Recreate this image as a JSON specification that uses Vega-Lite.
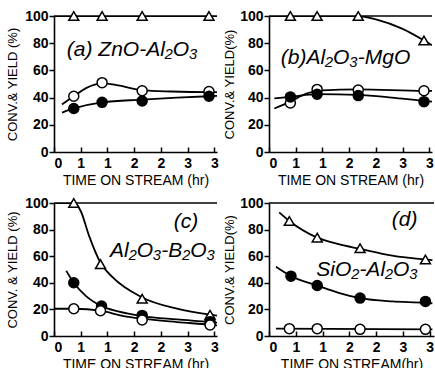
{
  "$schema": "https://vega.github.io/schema/vega-lite/v6.json",
  "padding": {"left": 6, "top": 8, "right": 0, "bottom": 0},
  "background": "white",
  "config": {
    "view": {"stroke": null},
    "font": "Liberation Sans",
    "axis": {
      "domainColor": "black", "domainWidth": 1.6, "tickColor": "black", "tickWidth": 1.5,
      "labelColor": "black", "titleColor": "black", "grid": false, "labelOverlap": false,
      "labelFont": "Liberation Sans", "labelFontSize": 14, "labelFontWeight": "bold",
      "titleFont": "Liberation Sans", "titleFontSize": 14, "titleFontWeight": "normal"
    },
    "axisY": {"values": [0, 20, 40, 60, 80, 100], "tickSize": 5, "labelPadding": 1, "titleFontSize": 13},
    "axisX": {"values": [0, 1, 2, 3], "format": "d", "tickSize": -5, "labelPadding": 9, "titlePadding": 3}
  },
  "datasets": {
    "pts": [
      {"panel": "a", "series": "conv", "x": 0.37, "y": 100}, {"panel": "a", "series": "conv", "x": 0.9, "y": 100}, {"panel": "a", "series": "conv", "x": 1.65, "y": 100}, {"panel": "a", "series": "conv", "x": 2.9, "y": 100},
      {"panel": "a", "series": "open", "x": 0.37, "y": 41}, {"panel": "a", "series": "open", "x": 0.9, "y": 51}, {"panel": "a", "series": "open", "x": 1.65, "y": 45}, {"panel": "a", "series": "open", "x": 2.9, "y": 44.5},
      {"panel": "a", "series": "filled", "x": 0.37, "y": 32}, {"panel": "a", "series": "filled", "x": 0.9, "y": 36.5}, {"panel": "a", "series": "filled", "x": 1.65, "y": 37.5}, {"panel": "a", "series": "filled", "x": 2.9, "y": 41},
      {"panel": "b", "series": "conv", "x": 0.4, "y": 100}, {"panel": "b", "series": "conv", "x": 0.9, "y": 100}, {"panel": "b", "series": "conv", "x": 1.67, "y": 100}, {"panel": "b", "series": "conv", "x": 2.9, "y": 82},
      {"panel": "b", "series": "open", "x": 0.4, "y": 36}, {"panel": "b", "series": "open", "x": 0.9, "y": 46}, {"panel": "b", "series": "open", "x": 1.67, "y": 45.5}, {"panel": "b", "series": "open", "x": 2.9, "y": 45},
      {"panel": "b", "series": "filled", "x": 0.4, "y": 40.5}, {"panel": "b", "series": "filled", "x": 0.9, "y": 42.5}, {"panel": "b", "series": "filled", "x": 1.67, "y": 41.5}, {"panel": "b", "series": "filled", "x": 2.9, "y": 37},
      {"panel": "c", "series": "conv", "x": 0.37, "y": 100}, {"panel": "c", "series": "conv", "x": 0.87, "y": 54}, {"panel": "c", "series": "conv", "x": 1.65, "y": 28}, {"panel": "c", "series": "conv", "x": 2.92, "y": 16},
      {"panel": "c", "series": "filled", "x": 0.37, "y": 40}, {"panel": "c", "series": "filled", "x": 0.89, "y": 22.5}, {"panel": "c", "series": "filled", "x": 1.65, "y": 15.5}, {"panel": "c", "series": "filled", "x": 2.92, "y": 10.8},
      {"panel": "c", "series": "open", "x": 0.37, "y": 20.5}, {"panel": "c", "series": "open", "x": 0.87, "y": 19}, {"panel": "c", "series": "open", "x": 1.65, "y": 12}, {"panel": "c", "series": "open", "x": 2.92, "y": 8.3},
      {"panel": "d", "series": "conv", "x": 0.38, "y": 86.5}, {"panel": "d", "series": "conv", "x": 0.9, "y": 74}, {"panel": "d", "series": "conv", "x": 1.7, "y": 66}, {"panel": "d", "series": "conv", "x": 2.92, "y": 57.5},
      {"panel": "d", "series": "filled", "x": 0.41, "y": 45}, {"panel": "d", "series": "filled", "x": 0.9, "y": 38}, {"panel": "d", "series": "filled", "x": 1.7, "y": 28.5}, {"panel": "d", "series": "filled", "x": 2.92, "y": 26},
      {"panel": "d", "series": "open", "x": 0.38, "y": 5.5}, {"panel": "d", "series": "open", "x": 0.9, "y": 5.5}, {"panel": "d", "series": "open", "x": 1.7, "y": 5}, {"panel": "d", "series": "open", "x": 2.92, "y": 5}
    ],
    "curves": [
      {"panel": "a", "series": "conv", "x": 0, "y": 100}, {"panel": "a", "series": "conv", "x": 3.05, "y": 100},
      {"panel": "a", "series": "open", "x": 0.15, "y": 35}, {"panel": "a", "series": "open", "x": 0.37, "y": 41}, {"panel": "a", "series": "open", "x": 0.6, "y": 47}, {"panel": "a", "series": "open", "x": 0.9, "y": 50.5}, {"panel": "a", "series": "open", "x": 1.2, "y": 49}, {"panel": "a", "series": "open", "x": 1.65, "y": 45.5}, {"panel": "a", "series": "open", "x": 2.2, "y": 44.5}, {"panel": "a", "series": "open", "x": 2.9, "y": 44}, {"panel": "a", "series": "open", "x": 3.05, "y": 44},
      {"panel": "a", "series": "filled", "x": 0.15, "y": 29}, {"panel": "a", "series": "filled", "x": 0.37, "y": 32}, {"panel": "a", "series": "filled", "x": 0.9, "y": 36.5}, {"panel": "a", "series": "filled", "x": 1.65, "y": 38.5}, {"panel": "a", "series": "filled", "x": 2.3, "y": 40}, {"panel": "a", "series": "filled", "x": 2.9, "y": 41}, {"panel": "a", "series": "filled", "x": 3.05, "y": 41.2},
      {"panel": "b", "series": "conv", "x": 0, "y": 100}, {"panel": "b", "series": "conv", "x": 1.67, "y": 100}, {"panel": "b", "series": "conv", "x": 2.0, "y": 97.5}, {"panel": "b", "series": "conv", "x": 2.5, "y": 90.5}, {"panel": "b", "series": "conv", "x": 2.9, "y": 82}, {"panel": "b", "series": "conv", "x": 3.05, "y": 78.5},
      {"panel": "b", "series": "open", "x": 0.1, "y": 32}, {"panel": "b", "series": "open", "x": 0.4, "y": 37}, {"panel": "b", "series": "open", "x": 0.7, "y": 43}, {"panel": "b", "series": "open", "x": 1.0, "y": 45.3}, {"panel": "b", "series": "open", "x": 1.67, "y": 46}, {"panel": "b", "series": "open", "x": 2.9, "y": 45}, {"panel": "b", "series": "open", "x": 3.05, "y": 45},
      {"panel": "b", "series": "filled", "x": 0.1, "y": 39.5}, {"panel": "b", "series": "filled", "x": 0.4, "y": 40.5}, {"panel": "b", "series": "filled", "x": 0.9, "y": 42.5}, {"panel": "b", "series": "filled", "x": 1.67, "y": 42}, {"panel": "b", "series": "filled", "x": 2.3, "y": 40}, {"panel": "b", "series": "filled", "x": 2.9, "y": 37.5}, {"panel": "b", "series": "filled", "x": 3.05, "y": 37},
      {"panel": "c", "series": "conv", "x": 0, "y": 100}, {"panel": "c", "series": "conv", "x": 0.37, "y": 100}, {"panel": "c", "series": "conv", "x": 0.5, "y": 94}, {"panel": "c", "series": "conv", "x": 0.65, "y": 76}, {"panel": "c", "series": "conv", "x": 0.87, "y": 55}, {"panel": "c", "series": "conv", "x": 1.1, "y": 44}, {"panel": "c", "series": "conv", "x": 1.65, "y": 29}, {"panel": "c", "series": "conv", "x": 2.3, "y": 20.5}, {"panel": "c", "series": "conv", "x": 2.92, "y": 16}, {"panel": "c", "series": "conv", "x": 3.05, "y": 15.3},
      {"panel": "c", "series": "filled", "x": 0.23, "y": 49}, {"panel": "c", "series": "filled", "x": 0.37, "y": 40}, {"panel": "c", "series": "filled", "x": 0.6, "y": 30}, {"panel": "c", "series": "filled", "x": 0.89, "y": 22.5}, {"panel": "c", "series": "filled", "x": 1.2, "y": 18.5}, {"panel": "c", "series": "filled", "x": 1.65, "y": 15}, {"panel": "c", "series": "filled", "x": 2.3, "y": 12.5}, {"panel": "c", "series": "filled", "x": 2.92, "y": 10.5}, {"panel": "c", "series": "filled", "x": 3.05, "y": 10},
      {"panel": "c", "series": "open", "x": 0, "y": 20.5}, {"panel": "c", "series": "open", "x": 0.37, "y": 20.5}, {"panel": "c", "series": "open", "x": 0.87, "y": 19}, {"panel": "c", "series": "open", "x": 1.3, "y": 15}, {"panel": "c", "series": "open", "x": 1.65, "y": 13}, {"panel": "c", "series": "open", "x": 2.3, "y": 10.5}, {"panel": "c", "series": "open", "x": 2.92, "y": 8.5}, {"panel": "c", "series": "open", "x": 3.05, "y": 8},
      {"panel": "d", "series": "conv", "x": 0.19, "y": 93}, {"panel": "d", "series": "conv", "x": 0.38, "y": 86.5}, {"panel": "d", "series": "conv", "x": 0.9, "y": 74}, {"panel": "d", "series": "conv", "x": 1.3, "y": 69}, {"panel": "d", "series": "conv", "x": 1.7, "y": 65.5}, {"panel": "d", "series": "conv", "x": 2.3, "y": 60.5}, {"panel": "d", "series": "conv", "x": 2.92, "y": 57.5}, {"panel": "d", "series": "conv", "x": 3.05, "y": 57},
      {"panel": "d", "series": "filled", "x": 0.13, "y": 52}, {"panel": "d", "series": "filled", "x": 0.41, "y": 45}, {"panel": "d", "series": "filled", "x": 0.9, "y": 38}, {"panel": "d", "series": "filled", "x": 1.3, "y": 32.5}, {"panel": "d", "series": "filled", "x": 1.7, "y": 28.5}, {"panel": "d", "series": "filled", "x": 2.3, "y": 26}, {"panel": "d", "series": "filled", "x": 2.92, "y": 25}, {"panel": "d", "series": "filled", "x": 3.05, "y": 24.5},
      {"panel": "d", "series": "open", "x": 0.13, "y": 5.5}, {"panel": "d", "series": "open", "x": 3.05, "y": 5}
    ]
  },
  "columns": 2,
  "spacing": {"row": 51, "column": 52},
  "bounds": "flush",
  "concat": [
    {
      "width": 163, "height": 136,
      "layer": [
        {"data": {"values": [{}]}, "mark": {"type": "rule", "color": "black", "strokeWidth": 1.5}, "encoding": {"y": {"datum": 100, "type": "quantitative", "scale": {"domain": [0, 100]}, "axis": {"title": "CONV.& YIELD (%)", "titlePadding": 5}}}},
        {"data": {"name": "curves"}, "transform": [{"filter": "datum.panel == 'a'"}], "mark": {"type": "line", "interpolate": "monotone", "color": "black", "strokeWidth": 1.8, "clip": true},
         "encoding": {
           "x": {"field": "x", "type": "quantitative", "scale": {"domain": [0, 3.05], "nice": false}, "axis": {"title": "TIME ON STREAM (hr)"}},
           "y": {"field": "y", "type": "quantitative", "axis": {"title": "CONV.& YIELD (%)", "titlePadding": 5}},
           "detail": {"field": "series"}}},
        {"data": {"name": "pts"}, "transform": [{"filter": "datum.panel == 'a'"}], "mark": {"type": "point", "filled": true, "stroke": "black", "strokeWidth": 1.5, "size": 100, "opacity": 1},
         "encoding": {"x": {"field": "x", "type": "quantitative"}, "y": {"field": "y", "type": "quantitative"},
           "shape": {"field": "series", "scale": {"domain": ["conv", "filled", "open"], "range": ["triangle-up", "circle", "circle"]}, "legend": null},
           "fill": {"field": "series", "scale": {"domain": ["conv", "filled", "open"], "range": ["white", "black", "white"]}, "legend": null}}},
        {"data": {"values": [{}]}, "mark": {"type": "text", "align": "left", "baseline": "middle", "fontSize": 21, "fontStyle": "italic", "font": "Liberation Sans", "color": "black"},
         "encoding": {"x": {"datum": 0.24}, "y": {"datum": 75}, "text": {"value": "(a) ZnO-Al₂O₃"}}}
      ]
    },
    {
      "width": 163, "height": 136,
      "layer": [
        {"data": {"values": [{}]}, "mark": {"type": "rule", "color": "black", "strokeWidth": 1.5}, "encoding": {"y": {"datum": 100, "type": "quantitative", "scale": {"domain": [0, 100]}, "axis": {"title": "CONV.& YIELD(%)", "titlePadding": 3}}}},
        {"data": {"name": "curves"}, "transform": [{"filter": "datum.panel == 'b'"}], "mark": {"type": "line", "interpolate": "monotone", "color": "black", "strokeWidth": 1.8, "clip": true},
         "encoding": {
           "x": {"field": "x", "type": "quantitative", "scale": {"domain": [0, 3.05], "nice": false}, "axis": {"title": "TIME ON STREAM (hr)"}},
           "y": {"field": "y", "type": "quantitative", "axis": {"title": "CONV.& YIELD(%)", "titlePadding": 3}},
           "detail": {"field": "series"}}},
        {"data": {"name": "pts"}, "transform": [{"filter": "datum.panel == 'b'"}], "mark": {"type": "point", "filled": true, "stroke": "black", "strokeWidth": 1.5, "size": 100, "opacity": 1},
         "encoding": {"x": {"field": "x", "type": "quantitative"}, "y": {"field": "y", "type": "quantitative"},
           "shape": {"field": "series", "scale": {"domain": ["conv", "filled", "open"], "range": ["triangle-up", "circle", "circle"]}, "legend": null},
           "fill": {"field": "series", "scale": {"domain": ["conv", "filled", "open"], "range": ["white", "black", "white"]}, "legend": null}}},
        {"data": {"values": [{}]}, "mark": {"type": "text", "align": "left", "baseline": "middle", "fontSize": 21, "fontStyle": "italic", "font": "Liberation Sans", "color": "black"},
         "encoding": {"x": {"datum": 0.22}, "y": {"datum": 69}, "text": {"value": "(b)Al₂O₃-MgO"}}}
      ]
    },
    {
      "width": 163, "height": 133,
      "layer": [
        {"data": {"values": [{}]}, "mark": {"type": "rule", "color": "black", "strokeWidth": 1.5}, "encoding": {"y": {"datum": 100, "type": "quantitative", "scale": {"domain": [0, 100]}, "axis": {"title": "CONV. & YIELD (%)", "titlePadding": 5}}}},
        {"data": {"name": "curves"}, "transform": [{"filter": "datum.panel == 'c'"}], "mark": {"type": "line", "interpolate": "monotone", "color": "black", "strokeWidth": 1.8, "clip": true},
         "encoding": {
           "x": {"field": "x", "type": "quantitative", "scale": {"domain": [0, 3.05], "nice": false}, "axis": {"title": "TIME ON STREAM (hr)"}},
           "y": {"field": "y", "type": "quantitative", "axis": {"title": "CONV. & YIELD (%)", "titlePadding": 5}},
           "detail": {"field": "series"}}},
        {"data": {"name": "pts"}, "transform": [{"filter": "datum.panel == 'c'"}], "mark": {"type": "point", "filled": true, "stroke": "black", "strokeWidth": 1.5, "size": 100, "opacity": 1},
         "encoding": {"x": {"field": "x", "type": "quantitative"}, "y": {"field": "y", "type": "quantitative"},
           "shape": {"field": "series", "scale": {"domain": ["conv", "filled", "open"], "range": ["triangle-up", "circle", "circle"]}, "legend": null},
           "fill": {"field": "series", "scale": {"domain": ["conv", "filled", "open"], "range": ["white", "black", "white"]}, "legend": null}}},
        {"data": {"values": [{}]}, "mark": {"type": "text", "align": "center", "baseline": "middle", "fontSize": 21, "fontStyle": "italic", "font": "Liberation Sans", "color": "black"},
         "encoding": {"x": {"datum": 2.47}, "y": {"datum": 86}, "text": {"value": "(c)"}}},
        {"data": {"values": [{}]}, "mark": {"type": "text", "align": "center", "baseline": "middle", "fontSize": 21, "fontStyle": "italic", "font": "Liberation Sans", "color": "black"},
         "encoding": {"x": {"datum": 2.03}, "y": {"datum": 64}, "text": {"value": "Al₂O₃-B₂O₃"}}}
      ]
    },
    {
      "width": 165, "height": 133,
      "layer": [
        {"data": {"values": [{}]}, "mark": {"type": "rule", "color": "black", "strokeWidth": 1.5}, "encoding": {"y": {"datum": 100, "type": "quantitative", "scale": {"domain": [0, 100]}, "axis": {"title": "CONV.& YIELD(%)", "titlePadding": 3}}}},
        {"data": {"name": "curves"}, "transform": [{"filter": "datum.panel == 'd'"}], "mark": {"type": "line", "interpolate": "monotone", "color": "black", "strokeWidth": 1.8, "clip": true},
         "encoding": {
           "x": {"field": "x", "type": "quantitative", "scale": {"domain": [0, 3.08], "nice": false}, "axis": {"title": "TIME ON STREAM(hr)"}},
           "y": {"field": "y", "type": "quantitative", "axis": {"title": "CONV.& YIELD(%)", "titlePadding": 3}},
           "detail": {"field": "series"}}},
        {"data": {"name": "pts"}, "transform": [{"filter": "datum.panel == 'd'"}], "mark": {"type": "point", "filled": true, "stroke": "black", "strokeWidth": 1.5, "size": 100, "opacity": 1},
         "encoding": {"x": {"field": "x", "type": "quantitative"}, "y": {"field": "y", "type": "quantitative"},
           "shape": {"field": "series", "scale": {"domain": ["conv", "filled", "open"], "range": ["triangle-up", "circle", "circle"]}, "legend": null},
           "fill": {"field": "series", "scale": {"domain": ["conv", "filled", "open"], "range": ["white", "black", "white"]}, "legend": null}}},
        {"data": {"values": [{}]}, "mark": {"type": "text", "align": "center", "baseline": "middle", "fontSize": 21, "fontStyle": "italic", "font": "Liberation Sans", "color": "black"},
         "encoding": {"x": {"datum": 2.53}, "y": {"datum": 87.5}, "text": {"value": "(d)"}}},
        {"data": {"values": [{}]}, "mark": {"type": "text", "align": "center", "baseline": "middle", "fontSize": 21, "fontStyle": "italic", "font": "Liberation Sans", "color": "black"},
         "encoding": {"x": {"datum": 1.83}, "y": {"datum": 50}, "text": {"value": "SiO₂-Al₂O₃"}}}
      ]
    }
  ]
}
